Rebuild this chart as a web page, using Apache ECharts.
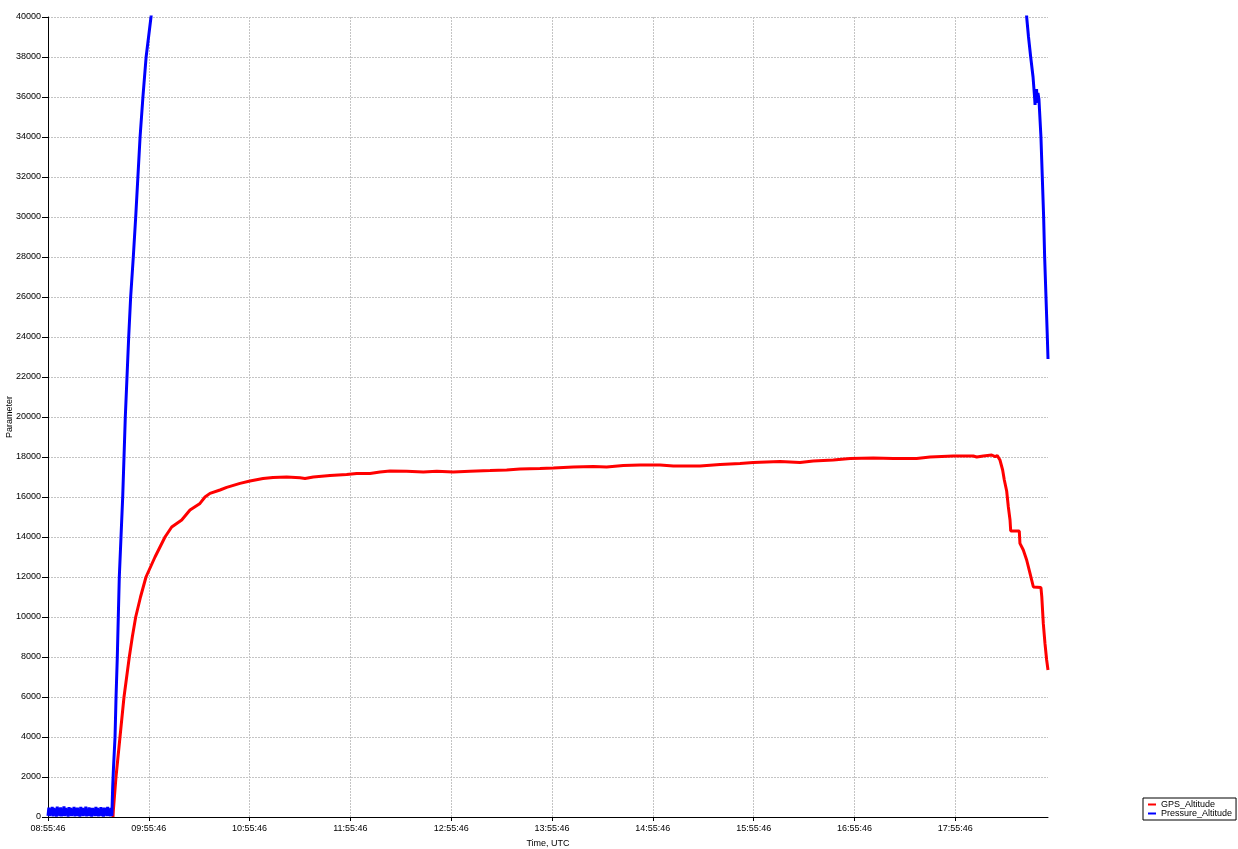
<!DOCTYPE html>
<html>
<head>
<meta charset="utf-8">
<script src="https://cdn.jsdelivr.net/npm/echarts@6/dist/echarts.min.js"></script>
<style>
html,body{margin:0;padding:0;background:#fff;}
#chart{width:1238px;height:849px;}
</style>
</head>
<body>
<div id="chart"></div>
<script>
// Time in minutes after 08:55:46 UTC
var startTime = '08:55:46';
var xMaxMinutes = 595.2;
var yTickValues = [0,2000,4000,6000,8000,10000,12000,14000,16000,18000,20000,22000,24000,26000,28000,30000,32000,34000,36000,38000,40000];
var seriesNames = ['GPS_Altitude', 'Pressure_Altitude'];

// Pressure altitude: ground noise
var pressureGround = [
[0,60],[0.5,470],[1,40],[1.5,430],[2,90],[2.5,500],[3,30],[3.5,450],[4,70],[4.5,410],
[5,20],[5.5,520],[6,80],[6.5,440],[7,50],[7.5,480],[8,30],[8.5,400],[9,60],[9.5,530],
[10,40],[10.5,450],[11,90],[11.5,420],[12,20],[12.5,490],[13,70],[13.5,460],[14,40],[14.5,410],
[15,80],[15.5,510],[16,30],[16.5,440],[17,60],[17.5,470],[18,50],[18.5,400],[19,20],[19.5,500],
[20,70],[20.5,450],[21,40],[21.5,430],[22,90],[22.5,520],[23,30],[23.5,410],[24,60],[24.5,480],
[25,50],[25.5,440],[26,20],[26.5,460],[27,80],[27.5,420],[28,40],[28.5,500],[29,60],[29.5,450],
[30,30],[30.5,410],[31,70],[31.5,490],[32,50],[32.5,430],[33,20],[33.5,470],[34,90],[34.5,440],
[35,40],[35.5,510],[36,60],[36.5,420],[37,30],[37.5,460],[38,50]
];
// Pressure altitude: climb, cruise (above chart range) and descent
var pressureFlight = [
[38.3,20],[38.5,1500],[39.0,2500],[39.9,4000],[40.5,6000],[41.25,8000],[41.84,10000],
[42.44,12000],[43.45,14000],[44.46,16000],[45.24,18000],[46.01,20000],[47.02,22000],
[48.03,24000],[49.2,26000],[50.77,28000],[52.2,30000],[53.5,32000],[54.8,34000],
[56.5,36000],[58.4,38000],[61.31,40000],[65,43000],[75,49000],[90,55000],[120,58000],
[300,59000],[560,60000],[575,56000],[581.5,42000],
[582.5,40000],[583.6,39000],[584.9,38000],[586.3,37000],[587.2,36000],[587.5,35600],
[587.8,36300],[588.1,35700],[588.4,36400],[588.7,35800],[589.2,36200],[589.8,35900],
[590.4,36000],[591.0,34000],[591.8,32000],[592.6,30000],[593.2,28000],[594.0,26000],
[594.8,24000],[595.2,22900]
];
// GPS altitude
var gpsAltitude = [
[38.69,0],[38.87,300],[40.47,2000],[42.85,4000],[45.24,6000],[48.39,8000],[50.18,9000],
[52.2,10000],[55.06,11000],[58.33,12000],[63.69,13000],[69.64,14000],[73.63,14500],[79.58,14850],
[84.52,15350],[90.47,15680],[93.45,16000],[96.42,16180],[102.37,16350],[106.36,16480],
[114.28,16680],[120.23,16800],[127.97,16920],[133.92,16980],[142.07,17000],[150.0,16960],
[152.97,16930],[157.9,17000],[167.85,17070],[177.79,17120],[183.74,17180],[191.65,17180],
[197.6,17250],[203.56,17300],[213.5,17290],[223.4,17250],[231.4,17290],[241.2,17250],
[251.2,17290],[263.1,17320],[273.0,17350],[280.9,17400],[292.8,17420],[300.8,17450],
[312.7,17500],[324.6,17530],[332.5,17500],[342.4,17570],[352.4,17600],[364.3,17600],
[372.2,17550],[388.1,17550],[400.0,17630],[411.9,17680],[419.8,17730],[435.7,17770],
[447.6,17730],[455.5,17800],[467.4,17850],[477.4,17920],[491.2,17950],[503.1,17930],
[517.0,17930],[525.0,18000],[538.8,18050],[550.7,18050],[552.8,18000],[556.7,18050],
[561.7,18100],[563.7,18020],[565.0,18070],[566.6,17850],[568.2,17350],[569.2,16850],
[570.6,16300],[571.6,15500],[572.6,14850],[573.0,14300],[578.1,14300],[578.5,13680],
[580.5,13350],[582.5,12850],[584.5,12180],[586.5,11500],[591.0,11470],[591.5,11020],
[592.4,9680],[593.4,8680],[594.4,7850],[595.2,7350]
];

var pressureAltitude = pressureGround.concat(pressureFlight);

function parseHMS(s){var p=s.split(':').map(Number);return p[0]*3600+p[1]*60+p[2];}
var baseSec = parseHMS(startTime);
function pad(n){return (n<10?'0':'')+n;}
function fmtTime(v){
  var s = Math.round(baseSec + v*60);
  s = ((s % 86400) + 86400) % 86400;
  return pad(Math.floor(s/3600))+':'+pad(Math.floor(s%3600/60))+':'+pad(s%60);
}

var font = 'Liberation Sans, Arial, sans-serif';
var gridColor = '#c4c4c4';
var chart = echarts.init(document.getElementById('chart'), null, {renderer:'canvas'});
chart.setOption({
  animation:false,
  backgroundColor:'#ffffff',
  textStyle:{fontFamily:font},
  grid:{left:48, top:17, width:1000, height:800, containLabel:false, outerBoundsMode:'none'},
  legend:{
    orient:'vertical', left:1143, top:798,
    data:seriesNames,
    icon:'rect', itemWidth:8, itemHeight:2, itemGap:0, itemTextGap:1,
    padding:[2,4,2,5],
    borderColor:'#000', borderWidth:1, borderRadius:0,
    backgroundColor:'#fff',
    textStyle:{fontSize:9, color:'#000', fontFamily:font, lineHeight:9, padding:0}
  },
  xAxis:{
    type:'value', min:0, max:xMaxMinutes, interval:60,
    name:'Time, UTC', nameLocation:'middle', nameGap:22, nameMoveOverlap:false,
    nameTextStyle:{fontSize:9, color:'#000', fontFamily:font},
    axisLine:{show:true, onZero:false, lineStyle:{color:'#000', width:1}},
    axisTick:{show:true, length:4, lineStyle:{color:'#000'}},
    axisLabel:{fontSize:9, color:'#000', fontFamily:font, margin:7, showMaxLabel:false, formatter:function(v){return fmtTime(v);}},
    splitLine:{show:true, showMinLine:false, showMaxLine:false, lineStyle:{color:gridColor, type:[2,1], width:1}}
  },
  yAxis:{
    type:'value', min:yTickValues[0], max:yTickValues[yTickValues.length-1], interval:yTickValues[1]-yTickValues[0],
    name:'Parameter', nameLocation:'middle', nameGap:34, nameRotate:90, nameMoveOverlap:false,
    nameTextStyle:{fontSize:9, color:'#000', fontFamily:font},
    axisLine:{show:true, lineStyle:{color:'#000', width:1}},
    axisTick:{show:true, length:6, lineStyle:{color:'#000'}},
    axisLabel:{fontSize:9, color:'#000', fontFamily:font, margin:7, formatter:function(v){return String(v);}},
    splitLine:{show:true, showMinLine:false, lineStyle:{color:gridColor, type:[2,1], width:1}}
  },
  series:[
    {name:seriesNames[0], type:'line', data:gpsAltitude, showSymbol:false, symbol:'none', clip:true,
     lineStyle:{color:'#ff0000', width:3}, itemStyle:{color:'#ff0000'}},
    {name:seriesNames[1], type:'line', data:pressureAltitude, showSymbol:false, symbol:'none', clip:true,
     lineStyle:{color:'#0000ff', width:3}, itemStyle:{color:'#0000ff'}}
  ]
});
</script>
</body>
</html>
